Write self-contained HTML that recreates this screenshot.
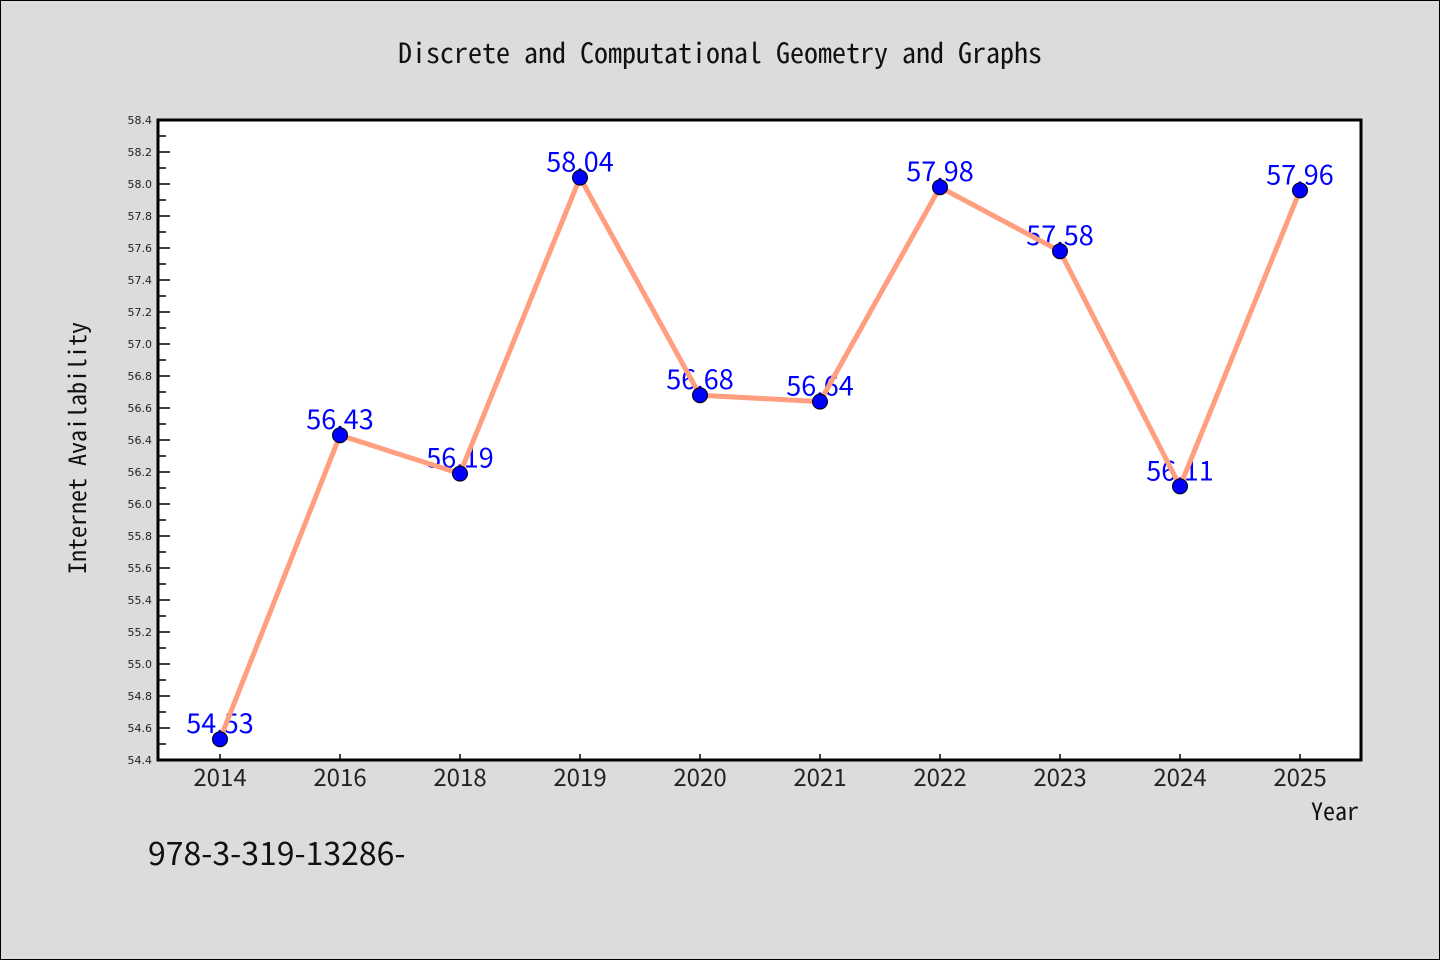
<!DOCTYPE html>
<html><head><meta charset="utf-8"><style>
body{margin:0;background:#dcdcdc;}
svg{display:block;font-family:"Noto Sans CJK SC","WenQuanYi Zen Hei",sans-serif;}
.mono{font-family:"Noto Sans Mono CJK SC","WenQuanYi Zen Hei Mono","DejaVu Sans Mono",monospace;}
.dv{font-family:"DejaVu Sans",sans-serif;}
</style></head><body>
<svg id="chart" width="1440" height="960" xmlns="http://www.w3.org/2000/svg">
<rect x="0.5" y="0.5" width="1439" height="959" fill="#dcdcdc" stroke="#000"/>
<text class="mono" x="720" y="63" text-anchor="middle" font-size="28" fill="#111">Discrete and Computational Geometry and Graphs</text>
<rect x="158" y="120" width="1203" height="640" fill="#fff"/>
<g id="axes"></g>
<g id="labels"></g>
<g id="series"></g>
<rect x="158" y="120" width="1203" height="640" fill="none" stroke="#000" stroke-width="3"/>
<text class="mono" x="86" y="448" transform="rotate(-90 86 448)" text-anchor="middle" font-size="24" fill="#111">Internet Availability</text>
<text class="mono" x="1359" y="820" text-anchor="end" font-size="24" fill="#111">Year</text>
<text x="148" y="865" font-size="32" fill="#111">978-3-319-13286-</text>
</svg>
<script>
const categories=["2014","2016","2018","2019","2020","2021","2022","2023","2024","2025"];
const values=[54.53,56.43,56.19,58.04,56.68,56.64,57.98,57.58,56.11,57.96];
const valueLabels=["54.53","56.43","56.19","58.04","56.68","56.64","57.98","57.58","56.11","57.96"];
const yMin=54.4, yMax=58.4, yStep=0.2;
const NS="http://www.w3.org/2000/svg";
const L=158,R=1361,T=120,B=760;
function y(v){return B-(v-yMin)/(yMax-yMin)*(B-T);}
function x(i){return 220+i*120;}
function mk(tag,attrs,parent){const e=document.createElementNS(NS,tag);for(const k in attrs)e.setAttribute(k,attrs[k]);parent.appendChild(e);return e;}
const axes=document.getElementById('axes'),labels=document.getElementById('labels'),series=document.getElementById('series');
const n=Math.round((yMax-yMin)/yStep);
for(let i=0;i<=n;i++){
 const v=yMin+i*yStep, yy=y(v);
 const t=mk('line',{x1:L,x2:L+12,y1:yy,y2:yy,stroke:'#000','stroke-width':1.5},axes);
 
 
 if(i<n){const ym=y(v+yStep/2);const m=mk('line',{x1:L,x2:L+8,y1:ym,y2:ym,stroke:'#000','stroke-width':1.5},axes);
 
 }
 const tx=mk('text',{x:L-6,y:yy+4,'text-anchor':'end','font-size':11,fill:'#222','class':'dv'},axes);
 tx.textContent=v.toFixed(1);
 
 
}
categories.forEach((c,i)=>{
 const t=mk('line',{x1:x(i),x2:x(i),y1:B,y2:B-6,stroke:'#000','stroke-width':1.5},axes);
 
 
 const tx=mk('text',{x:x(i),y:B+26,'text-anchor':'middle','font-size':24,fill:'#222'},axes);
 tx.textContent=c;
 
 
 const lb=mk('text',{x:x(i),y:y(values[i])-6,'text-anchor':'middle','font-size':27,fill:'#0000ff'},labels);
 lb.textContent=valueLabels[i];
 
 
});
const pl=mk('polyline',{points:values.map((v,i)=>x(i)+','+y(v)).join(' '),fill:'none',stroke:'#ff9f7f','stroke-width':5,'stroke-linejoin':'round'},series);


values.forEach((v,i)=>{
 const c=mk('circle',{cx:x(i),cy:y(v),r:7.5,fill:'#0000ff',stroke:'#000','stroke-width':1},series);
 
 
});
</script>
</body></html>
